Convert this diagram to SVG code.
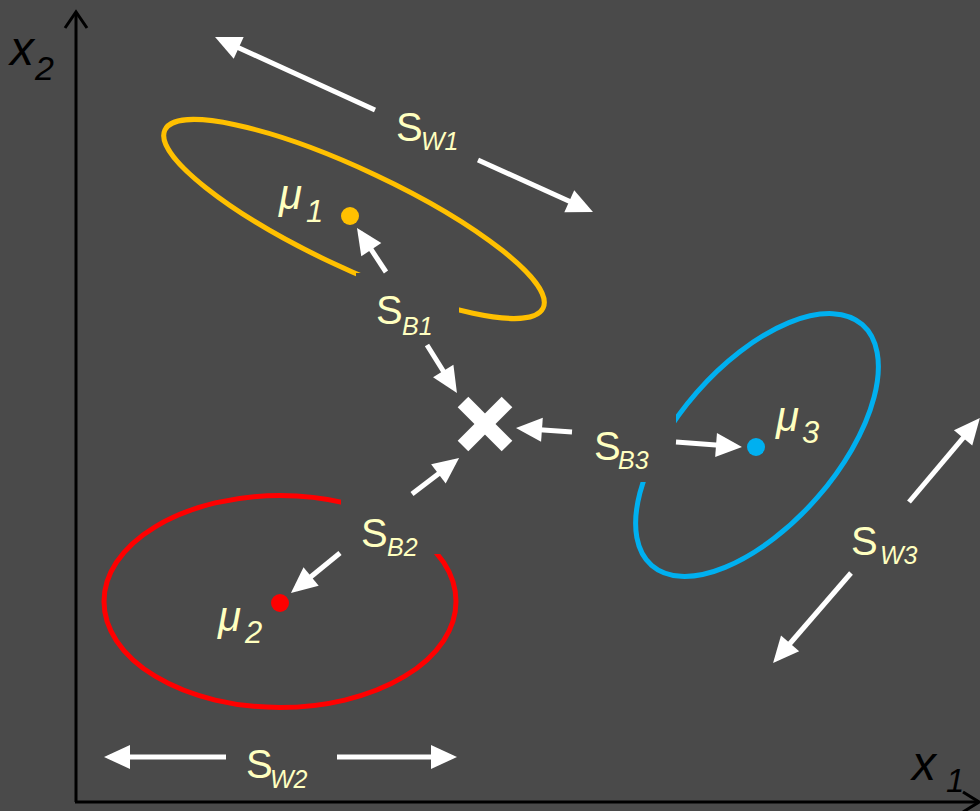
<svg xmlns="http://www.w3.org/2000/svg" width="980" height="811" viewBox="0 0 980 811">
<style>
.lbl{fill:#ffffc0;font-family:"Liberation Sans",Arial,sans-serif}
.S{font-size:40px}
.sub{font-size:25px;font-style:italic}
.mu{font-size:42px;font-style:italic}
.musub{font-size:31px;font-style:italic}
.ax{fill:#000;font-family:"Liberation Sans",Arial,sans-serif;font-style:italic}
.arr{stroke:#fff;stroke-width:5;fill:none;marker-end:url(#ah)}
.bg{fill:#4a4a4a}
</style>
<defs>
<marker id="ah" markerUnits="userSpaceOnUse" markerWidth="28" markerHeight="26" refX="20" refY="13" orient="auto" overflow="visible">
<path d="M0,1 L26,13 L0,25 Z" fill="#fff"/>
</marker>
</defs>
<rect width="980" height="811" fill="#4a4a4a"/>
<g id="axes" stroke="#000" stroke-width="3" fill="none">
<line x1="76" y1="13" x2="76" y2="802"/>
<line x1="75" y1="802" x2="979" y2="802"/>
<polyline points="65,28 76,12 87,28"/>
<polyline points="963,792 979,802 963,812"/>
</g>
<g id="axis-labels">
<text class="ax" x="10" y="65" font-size="48">x</text>
<text class="ax" x="35" y="80" font-size="34">2</text>
<text class="ax" x="912" y="780" font-size="48">x</text>
<text class="ax" x="946" y="792" font-size="33">1</text>
</g>
<g id="cluster1">
<ellipse cx="354" cy="219" rx="209" ry="49" transform="rotate(25.2 354 219)" fill="none" stroke="#ffc000" stroke-width="5"/>
<circle cx="350" cy="216" r="9" fill="#ffc000"/>
<text class="lbl mu" x="279" y="209">μ</text>
<text class="lbl musub" x="306" y="222">1</text>
</g>
<g id="cluster2">
<ellipse cx="280" cy="601.5" rx="176" ry="106" fill="none" stroke="#ff0000" stroke-width="5"/>
<circle cx="280" cy="603" r="9" fill="#ff0000"/>
<text class="lbl mu" x="218" y="631">μ</text>
<text class="lbl musub" x="245" y="643">2</text>
</g>
<g id="cluster3">
<ellipse cx="757" cy="445" rx="160" ry="80" transform="rotate(-48.8 757 445)" fill="none" stroke="#00b0f0" stroke-width="5"/>
<circle cx="756" cy="447" r="9" fill="#00b0f0"/>
<text class="lbl mu" x="776" y="431">μ</text>
<text class="lbl musub" x="802" y="443">3</text>
</g>
<g id="overall-mean" stroke="#fff" stroke-width="15">
<line x1="463" y1="402" x2="507" y2="446"/>
<line x1="507" y1="402" x2="463" y2="446"/>
</g>
<g id="label-SB1">
<rect class="bg" x="356" y="273" width="103" height="72"/>
<text class="lbl S" x="376" y="324">S</text>
<text class="lbl sub" x="402" y="335">B1</text>
</g>
<g id="label-SB2">
<rect class="bg" x="341" y="494" width="102" height="60"/>
<text class="lbl S" x="361" y="547">S</text>
<text class="lbl sub" x="387" y="556">B2</text>
</g>
<g id="label-SB3">
<rect class="bg" x="573" y="405" width="103" height="77"/>
<text class="lbl S" x="594" y="460">S</text>
<text class="lbl sub" x="618" y="469">B3</text>
</g>
<g id="label-SW1">
<text class="lbl S" x="396" y="141">S</text>
<text class="lbl sub" x="421" y="150">W1</text>
</g>
<g id="label-SW2">
<text class="lbl S" x="246" y="778">S</text>
<text class="lbl sub" x="270" y="788">W2</text>
</g>
<g id="label-SW3">
<text class="lbl S" x="851" y="555">S</text>
<text class="lbl sub" x="880" y="564">W3</text>
</g>
<g id="connectors">
<line class="arr" x1="375" y1="110" x2="220.5" y2="39.5"/>
<line class="arr" x1="478" y1="160" x2="587.5" y2="209.5"/>
<line class="arr" x1="226" y1="757" x2="110" y2="757"/>
<line class="arr" x1="337" y1="757" x2="451" y2="757"/>
<line class="arr" x1="909" y1="502" x2="976" y2="422.6"/>
<line class="arr" x1="851" y1="573" x2="777" y2="658.5"/>
<line class="arr" x1="386" y1="272" x2="360.3" y2="233"/>
<line class="arr" x1="427" y1="345" x2="453.8" y2="388"/>
<line class="arr" x1="412" y1="494" x2="454.3" y2="461.7"/>
<line class="arr" x1="340" y1="553" x2="295.6" y2="589.2"/>
<line class="arr" x1="572" y1="432" x2="522" y2="428.4"/>
<line class="arr" x1="676" y1="442" x2="736" y2="446.5"/>
</g>
</svg>
